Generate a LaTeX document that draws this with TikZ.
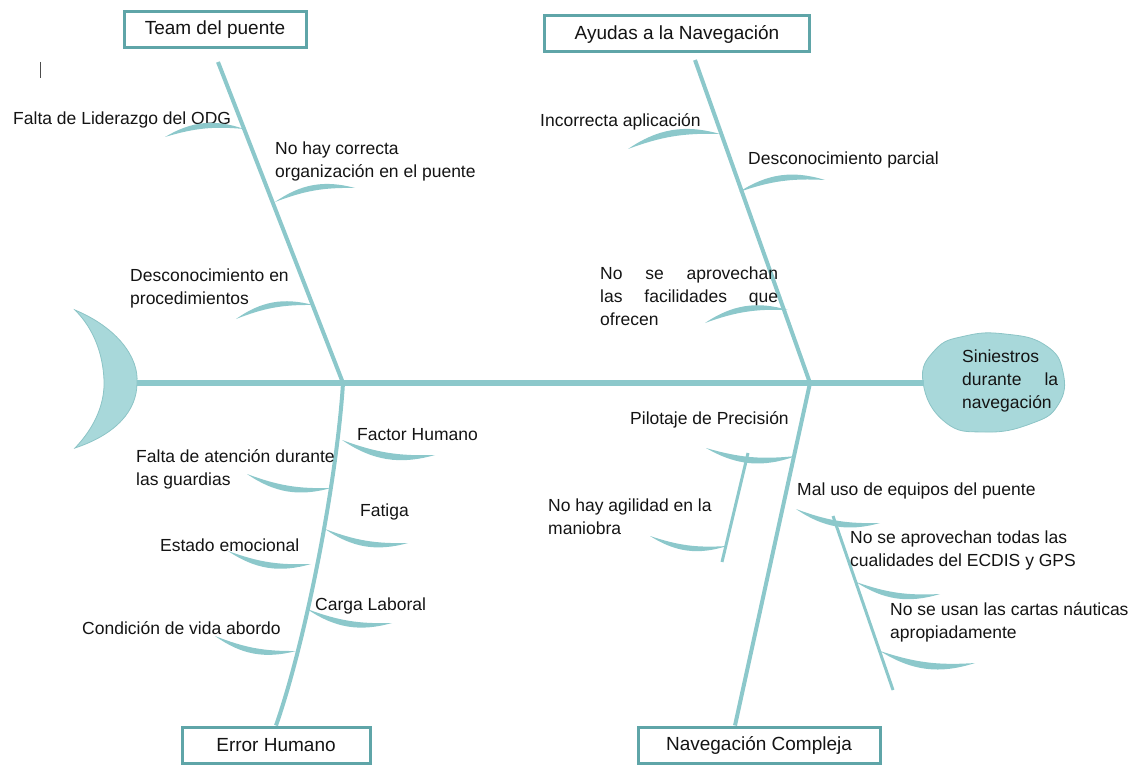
\documentclass[tikz,border=0pt]{standalone}
\usepackage{fontspec}
\setmainfont{Liberation Sans}
\definecolor{bonecol}{RGB}{140,200,203}
\definecolor{fillcol}{RGB}{168,216,218}
\definecolor{edgecol}{RGB}{140,196,198}
\definecolor{boxcol}{RGB}{95,165,168}
\definecolor{textcol}{RGB}{20,20,20}
\newcommand\upbrush[2]{\fill[bonecol] (#1) to[bend left=25] (#2) to[bend right=11] (#1);}
\newcommand\downbrush[2]{\fill[bonecol] (#1) to[bend right=25] (#2) to[bend left=11] (#1);}
\begin{document}
\begin{tikzpicture}[x=1pt,y=-1pt,
  lbl/.style={font=\fontsize{17.5}{23}\selectfont, text=textcol, inner sep=0pt, anchor=west, align=left},
  catbox/.style={draw=boxcol, line width=3pt, fill=white, font=\fontsize{19}{23}\selectfont, text=textcol, minimum height=36pt, inner sep=0pt},
  mainbone/.style={draw=bonecol, line width=4pt},
  subbone/.style={draw=bonecol, line width=3pt}]
\useasboundingbox (0,0) rectangle (1147,775);
% cursor mark
\coordinate (cur1) at (40,62);
\coordinate (cur2) at (40,78);
\draw[line width=1pt, black!70] (cur1) -- (cur2);
% tail
\coordinate (tail) at (137,383);
\fill[fillcol, draw=edgecol, line width=0.8pt] (75,310) .. controls (118,328) and (139,358) .. (tail)
  .. controls (137,410) and (117,434) .. (75,448)
  .. controls (96,426) and (105,402) .. (104,380)
  .. controls (103,356) and (95,330) .. (75,310) -- cycle;
% head
\fill[fillcol, draw=edgecol, line width=0.8pt] plot[smooth cycle, tension=0.8] coordinates
  {(923,382) (935,350) (965,336) (1005,334) (1045,345) (1063,372) (1058,405) (1030,424) (985,432) (945,422)};
\coordinate (headw) at (924,383);
\node[lbl, text width=96pt] (head) at (962,381) {Siniestros\\\makebox[96pt][s]{durante\hfill la}\\navegación};
% spine
\coordinate (J1) at (343,383);
\coordinate (J2) at (810,383);
\draw[draw=bonecol, line width=5.5pt] (tail) -- (headw);
% category boxes
\node[catbox, minimum width=182pt] (team) at (215,30) {Team del puente};
\node[catbox, minimum width=265pt] (ayudas) at (677,34) {Ayudas a la Navegación};
\node[catbox, minimum width=188pt] (error) at (276,745) {Error Humano};
\node[catbox, minimum width=242pt] (nav) at (759,745) {Navegación Compleja};
% main bones
\coordinate (t1) at (218,62);
\coordinate (t2) at (695,60);
\draw[mainbone] (t1) -- (J1);
\draw[mainbone] (t2) -- (J2);
\draw[mainbone] (J1) .. controls (337,480) and (306,640) .. (error.north);
\draw[mainbone] (J2) -- (nav.north -| 735,0);
% ---- Team del puente
\node[lbl] (l1) at (13,120) {Falta de Liderazgo del ODG};
\upbrush{165,137}{244,129}
\node[lbl] (l2) at (275,161) {No hay correcta\\organización en el puente};
\upbrush{275,202}{355,188}
\node[lbl] (l3) at (130,288) {Desconocimiento en\\procedimientos};
\upbrush{236,319}{313,305}
% ---- Ayudas
\node[lbl] (r1) at (540,122) {Incorrecta aplicación};
\upbrush{628,149}{720,134}
\node[lbl] (r2) at (748,160) {Desconocimiento parcial};
\upbrush{739,192}{825,180}
\node[lbl, text width=178pt] (r3) at (600,296) {\makebox[178pt][s]{No\hfill se\hfill aprovechan}\\\makebox[178pt][s]{las\hfill facilidades\hfill que}\\ofrecen};
\upbrush{705,323}{788,310}
% ---- Error Humano
\node[lbl] (e1) at (357,435) {Factor Humano};
\downbrush{342,440}{435,455}
\node[lbl] (e2) at (136,469) {Falta de atención durante\\las guardias};
\downbrush{247,474}{331,488}
\node[lbl] (e3) at (360,512) {Fatiga};
\downbrush{325,529}{408,543}
\node[lbl] (e4) at (160,545) {Estado emocional};
\downbrush{228,551}{311,564}
\node[lbl] (e5) at (315,606) {Carga Laboral};
\downbrush{307,609}{392,623}
\node[lbl] (e6) at (82,628) {Condición de vida abordo};
\downbrush{215,636}{296,651}
% ---- Navegación Compleja
\node[lbl] (n1) at (630,420) {Pilotaje de Precisión};
\downbrush{706,448}{796,456}
\coordinate (p1) at (748,453);
\coordinate (p2) at (722,562);
\draw[subbone] (p1) -- (p2);
\node[lbl] (n2) at (548,517) {No hay agilidad en la\\maniobra};
\downbrush{650,536}{727,546}
\node[lbl] (n3) at (797,491) {Mal uso de equipos del puente};
\downbrush{796,509}{880,523}
\coordinate (m1) at (833,516);
\coordinate (m2) at (893,690);
\draw[subbone] (m1) -- (m2);
\node[lbl] (n4) at (850,550) {No se aprovechan todas las\\cualidades del ECDIS y GPS};
\downbrush{856,582}{940,594}
\node[lbl] (n5) at (890,622) {No se usan las cartas náuticas\\apropiadamente};
\downbrush{880,651}{975,663}
\end{tikzpicture}
\end{document}
